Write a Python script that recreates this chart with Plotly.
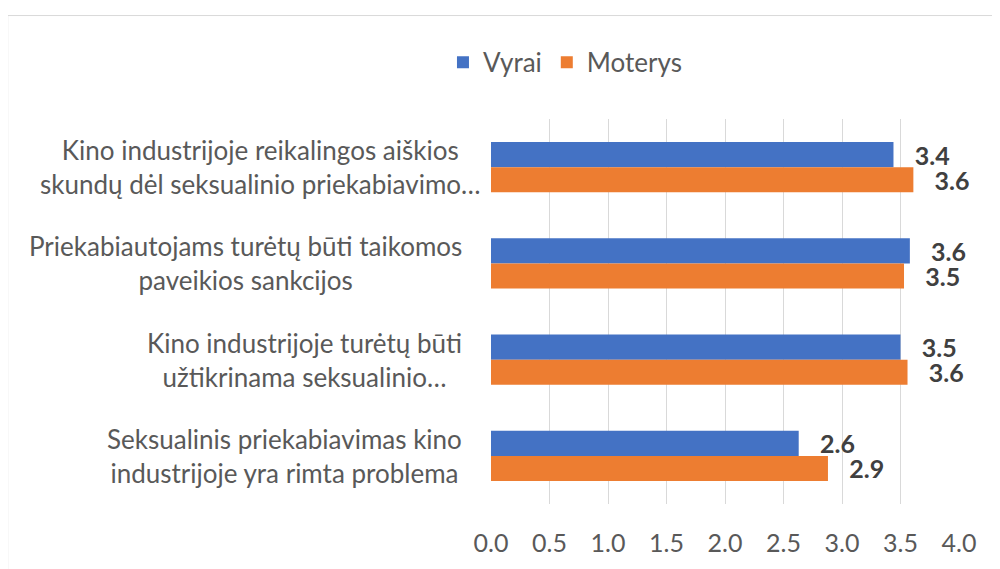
import plotly.graph_objects as go

categories = [
    "Kino industrijoje reikalingos aiškios<br>skundų dėl seksualinio priekabiavimo…",
    "Priekabiautojams turėtų būti taikomos<br>paveikios sankcijos",
    "Kino industrijoje turėtų būti<br>užtikrinama seksualinio…",
    "Seksualinis priekabiavimas kino<br>industrijoje yra rimta problema",
]
cat_keys = ["c1", "c2", "c3", "c4"]
vyrai = [3.44, 3.58, 3.50, 2.63]
moterys = [3.61, 3.53, 3.56, 2.88]
x_ticks = [0.0, 0.5, 1.0, 1.5, 2.0, 2.5, 3.0, 3.5, 4.0]

FONT = "Lato"
GRAY = "#595959"

# The page body has an 8px margin, so work in screen coords shifted by OFF.
OFF = 8
FW, FH = 1000 - OFF, 569 - OFF
# plot area in screen pixels
X0, X1, Y0, Y1 = 491, 958.7, 119, 506
L = X0 - OFF
R = FW - (X1 - OFF)
T = Y0 - OFF
B = FH - (Y1 - OFF)
W = X1 - X0
H = Y1 - Y0

def px_x(px):
    return (px - X0) / W

def px_y(py):
    return (Y1 - py) / H

fig = go.Figure()
for name, vals, col in [("Vyrai", vyrai, "#4472C4"), ("Moterys", moterys, "#ED7D31")]:
    fig.add_trace(go.Bar(
        name=name, y=cat_keys, x=vals, orientation="h",
        marker=dict(color=col, line=dict(width=0)),
        texttemplate="\u00a0\u00a0\u00a0%{x:.1f}", textposition="outside",
        textfont=dict(family=FONT, size=25, color="#404040", weight="bold"),
        constraintext="none", cliponaxis=False,
    ))

annotations = []
for i, (k, lab) in enumerate(zip(cat_keys, categories)):
    annotations.append(dict(
        x=px_x(483 if i == 0 else 464), xref="paper", y=k, yref="y",
        text=lab, showarrow=False, xanchor="right", yanchor="middle", align="center",
        font=dict(family=FONT, size=26, color=GRAY),
    ))

shapes = [dict(type="rect", xref="paper", yref="paper",
               x0=px_x(8), x1=px_x(1015), y0=px_y(590), y1=px_y(15),
               line=dict(color="#d9d9d9", width=1), layer="below")]

fig.update_layout(
    width=FW, height=FH,
    margin=dict(l=L, r=R, t=T, b=B, pad=0),
    paper_bgcolor="white", plot_bgcolor="white",
    barmode="group", bargap=0.48, bargroupgap=0,
    font=dict(family=FONT, size=25, color=GRAY),
    xaxis=dict(range=[0, 4], tickvals=x_ticks, ticktext=[f"{v:.1f}" for v in x_ticks],
               showgrid=True, gridcolor="#d9d9d9", gridwidth=1, zeroline=False,
               showline=False, ticks="", ticklabelstandoff=22,
               tickfont=dict(family=FONT, size=25, color=GRAY)),
    yaxis=dict(autorange="reversed", showticklabels=False, showgrid=False,
               zeroline=False, showline=False, ticks=""),
    legend=dict(orientation="h", x=px_x(443), xanchor="left", y=px_y(62), yanchor="middle",
                font=dict(family=FONT, size=26, color=GRAY), itemwidth=30,
                bgcolor="rgba(0,0,0,0)"),
    annotations=annotations,
    shapes=shapes,
    showlegend=True,
)

fig.write_html("out.html")
